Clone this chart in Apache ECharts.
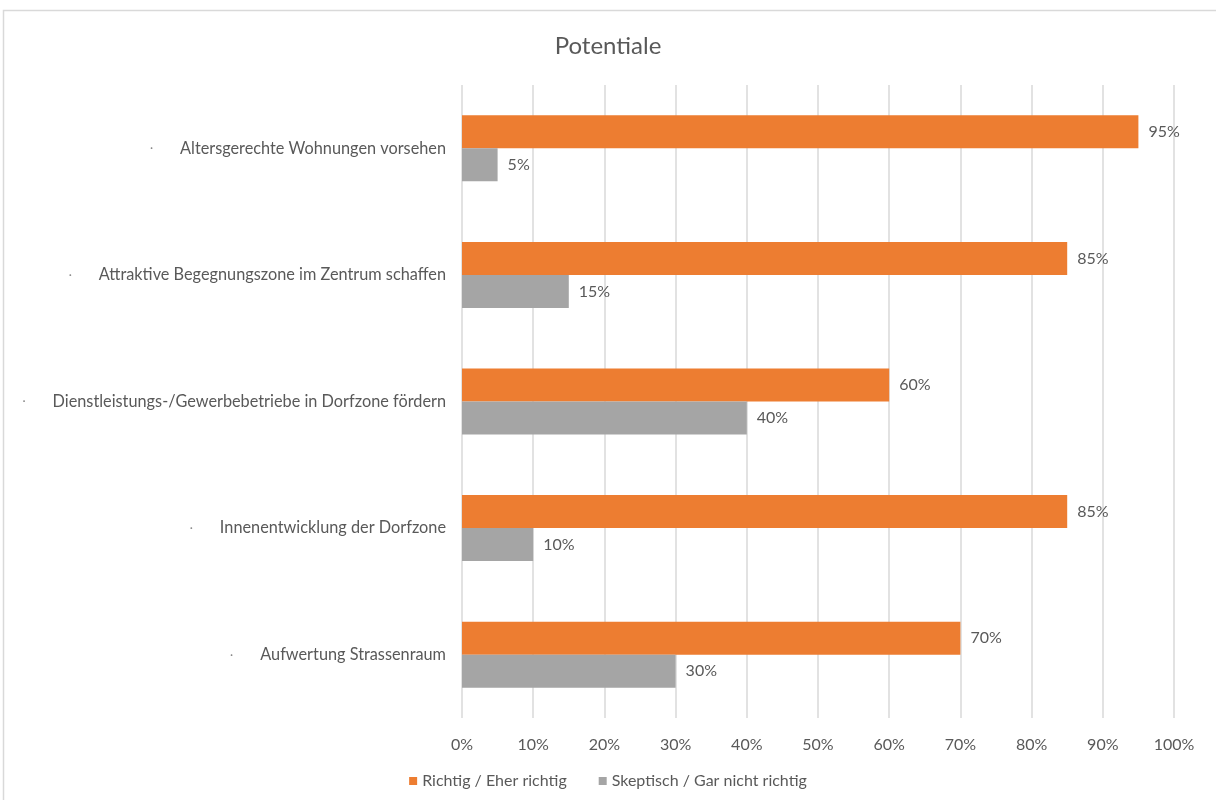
<!DOCTYPE html>
<html>
<head>
<meta charset="utf-8">
<script src="https://cdn.jsdelivr.net/npm/echarts@6/dist/echarts.min.js"></script>
<style>
  html, body { margin: 0; padding: 0; background: #fff; }
  #chart { width: 1216px; height: 800px; }
</style>
</head>
<body>
<div id="chart"></div>
<script>
// Statements rated in the survey, top to bottom
const categories = [
  'Altersgerechte Wohnungen vorsehen',
  'Attraktive Begegnungszone im Zentrum schaffen',
  'Dienstleistungs-/Gewerbebetriebe in Dorfzone fördern',
  'Innenentwicklung der Dorfzone',
  'Aufwertung Strassenraum'
];
const seriesNames = ['Richtig / Eher richtig', 'Skeptisch / Gar nicht richtig'];
const agreeValues = [95, 85, 60, 85, 70];
const skepticValues = [5, 15, 40, 10, 30];
const axisTicks = [0, 10, 20, 30, 40, 50, 60, 70, 80, 90, 100];

const FONT = 'Lato, "Open Sans", sans-serif';
const TEXT = '#595959';

const chart = echarts.init(document.getElementById('chart'));

const labelStyle = {
  show: true,
  position: 'right',
  distance: 10,
  formatter: p => p.value + '%',
  color: TEXT,
  fontSize: 16,
  fontFamily: FONT
};

chart.setOption({
  animation: false,
  textStyle: { fontFamily: FONT },
  graphic: [{
    type: 'rect',
    shape: { x: 3.5, y: 10.5, width: 1230, height: 800 },
    style: { fill: 'none', stroke: '#d9d9d9', lineWidth: 1.5 },
    silent: true
  }],
  title: {
    text: 'Potentiale',
    left: 'center',
    top: 29,
    textStyle: { color: TEXT, fontSize: 24, fontWeight: 'normal', fontFamily: FONT }
  },
  legend: {
    bottom: 6,
    left: 'center',
    itemWidth: 8,
    itemHeight: 8,
    itemGap: 32,
    icon: 'rect',
    textStyle: { color: TEXT, fontSize: 16, fontFamily: FONT },
    data: seriesNames
  },
  grid: { left: 462, right: 42, top: 85, bottom: 82, containLabel: false },
  xAxis: {
    type: 'value',
    min: 0,
    max: 100,
    interval: 10,
    axisLine: { show: false },
    axisTick: { show: false },
    splitLine: { show: true, lineStyle: { color: '#d9d9d9', width: 1.5 } },
    axisLabel: {
      color: TEXT,
      fontSize: 16,
      fontFamily: FONT,
      margin: 19,
      formatter: v => (axisTicks.includes(v) ? v + '%' : '')
    }
  },
  yAxis: {
    type: 'category',
    inverse: true,
    data: categories,
    axisLine: { show: false },
    axisTick: { show: false },
    axisLabel: {
      margin: 16,
      formatter: v => '{dot|·}{txt|' + v + '}',
      rich: {
        dot: { color: '#8a8a8a', fontSize: 12, padding: [0, 27, 0, 0] },
        txt: { color: TEXT, fontSize: 16.3, fontFamily: FONT }
      }
    }
  },
  series: [
    {
      name: seriesNames[0],
      type: 'bar',
      data: agreeValues,
      barWidth: 33,
      barGap: '0%',
      itemStyle: { color: '#ED7D31' },
      label: labelStyle
    },
    {
      name: seriesNames[1],
      type: 'bar',
      data: skepticValues,
      barWidth: 33,
      barGap: '0%',
      itemStyle: { color: '#A5A5A5' },
      label: labelStyle
    }
  ]
});
</script>
</body>
</html>
